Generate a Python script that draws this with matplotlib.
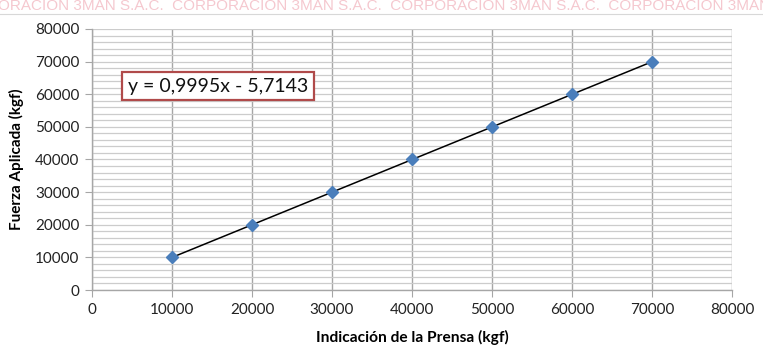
import matplotlib.pyplot as plt
from matplotlib.ticker import MultipleLocator

plt.rcParams['font.family'] = ['Lato', 'DejaVu Sans']

# lecturas de la prensa y fuerza aplicada (kgf)
indicacion = [10000, 20000, 30000, 40000, 50000, 60000, 70000]
fuerza = [10000, 20000, 30000, 40000, 50000, 60000, 70000]

# recta de ajuste
pendiente = 0.9995
intercepto = -5.7143
ecuacion = "y = 0,9995x - 5,7143"

fig = plt.figure(figsize=(7.63, 3.63), dpi=100)
ax = fig.add_axes([92 / 763, 1 - 290 / 363, 640 / 763, 261 / 363])

# marca de agua
fig.text(-0.06, 1 - 10 / 363, "  ".join(["CORPORACIÓN 3MAN S.A.C."] * 6), color="#f5c8cf",
         fontsize=11, ha="left", va="baseline", family=["Liberation Sans", "DejaVu Sans"])
fig.add_artist(plt.Line2D([0, 1], [1 - 14 / 363] * 2, color="#d8d8d8", lw=0.8))

ax.set_xlim(0, 80000)
ax.set_ylim(0, 80000)
ax.xaxis.set_major_locator(MultipleLocator(10000))
ax.yaxis.set_major_locator(MultipleLocator(10000))
ax.yaxis.set_minor_locator(MultipleLocator(2000))

ax.grid(axis="x", which="major", color="#a6a6a6", lw=1.0)
ax.grid(axis="y", which="both", color="#cccccc", lw=0.9)
ax.set_axisbelow(True)

for s in ["top", "right"]:
    ax.spines[s].set_visible(False)
for s in ["left", "bottom"]:
    ax.spines[s].set_color("#a6a6a6")
    ax.spines[s].set_linewidth(1.0)
ax.tick_params(which="major", length=5, color="#a6a6a6", labelsize=11,
               labelcolor="#222222", pad=4)
ax.tick_params(which="minor", length=0)

xs = [indicacion[0], indicacion[-1]]
ax.plot(xs, [pendiente * x + intercepto for x in xs], color="black", lw=1.1, zorder=2)
ax.plot(indicacion, fuerza, ls="none", marker="D", ms=6.5, color="#4a7ebb", zorder=3)

ax.text(15750, 62500, ecuacion, fontsize=14, ha="center", va="center", color="#111111",
        bbox=dict(boxstyle="square,pad=0.3", fc="white", ec="#b04a4a", lw=1.6))

ax.set_xlabel("Indicación de la Prensa (kgf)", fontsize=11.2, fontweight="bold", labelpad=10)
ax.set_ylabel("Fuerza Aplicada (kgf)", fontsize=11, fontweight="bold", labelpad=8)

fig.savefig("out.png", dpi=100)
